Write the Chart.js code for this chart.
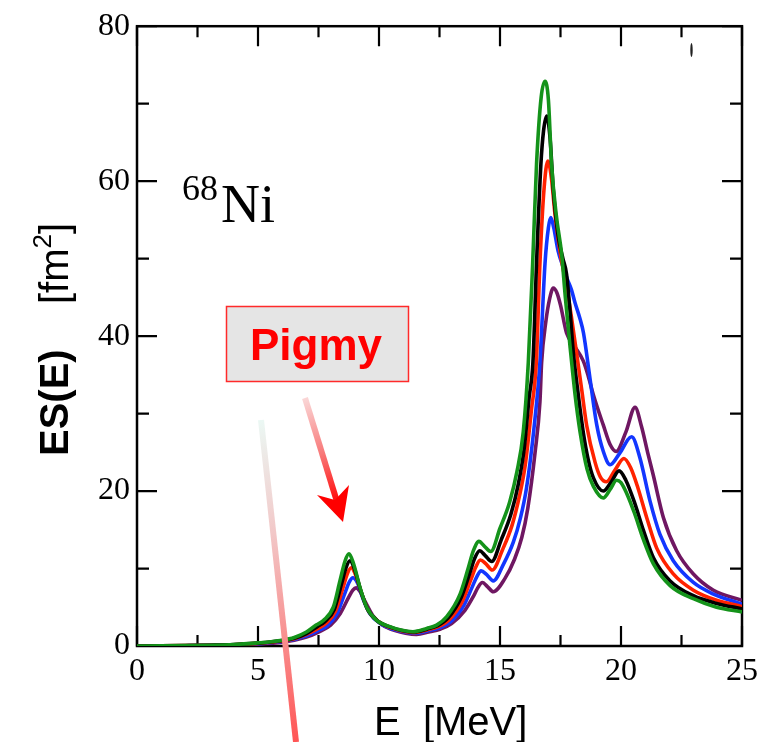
<!DOCTYPE html>
<html>
<head>
<meta charset="utf-8">
<script src="https://cdn.jsdelivr.net/npm/chart.js@4/dist/chart.umd.min.js"></script>
<style>
  html, body { margin: 0; padding: 0; background: #ffffff; }
  canvas { display: block; }
</style>
</head>
<body>
<canvas id="chart" width="776" height="742"></canvas>
<script>
// Tick labels on both axes
const energyTicks = [0, 5, 10, 15, 20, 25];
const strengthTicks = [0, 20, 40, 60, 80];

// Strength functions ES(E) [fm^2] versus E [MeV], one list of [E, ES] per curve
const curveGreen = [[0,0],[1,0.02],[2,0.05],[3,0.1],[4,0.2],[5,0.4],[6,0.75],[6.5,1.1],[7,1.8],[7.4,2.7],[7.7,3.3],[8.11,5.0],[8.39,8.45],[8.6,11.0],[8.76,11.9],[8.95,10.6],[9.21,7.6],[9.49,5.0],[9.9,3.3],[10.45,2.5],[10.9,2.05],[11.4,1.84],[11.97,2.26],[12.38,2.7],[12.8,3.8],[13.35,6.7],[13.7,10.2],[13.9,12.3],[14.13,13.5],[14.35,12.9],[14.62,12.2],[15.0,15.2],[15.4,18.6],[15.7,22.5],[15.96,27.6],[16.17,36.6],[16.35,49.4],[16.51,62.2],[16.7,70.8],[16.86,72.9],[17.0,70.5],[17.13,62.2],[17.33,55.5],[17.55,50.5],[17.7,45.0],[17.9,38.5],[18.1,32.5],[18.31,27.6],[18.6,22.8],[18.86,20.6],[19.27,19.1],[19.55,20.2],[19.82,21.4],[20.0,21.1],[20.25,19.6],[20.55,17.2],[20.92,13.8],[21.34,10.6],[22.03,7.8],[22.99,6.1],[23.95,5.0],[25,4.4]];
const curveBlack = [[0,0],[1,0.02],[2,0.05],[3,0.1],[4,0.18],[5,0.37],[6,0.7],[6.5,1.0],[7,1.6],[7.45,2.5],[7.75,3.1],[8.15,4.7],[8.45,8.0],[8.65,10.2],[8.8,11.0],[8.98,10.0],[9.25,7.1],[9.52,4.8],[9.95,3.2],[10.5,2.4],[10.95,2.0],[11.45,1.8],[12.0,2.2],[12.4,2.6],[12.85,3.6],[13.4,6.3],[13.75,9.4],[13.95,11.3],[14.16,12.3],[14.38,11.7],[14.66,10.9],[15.05,13.7],[15.45,17.0],[15.75,20.8],[16.0,25.5],[16.2,32.0],[16.36,36.6],[16.51,49.4],[16.69,62.2],[16.8,66.5],[16.93,68.4],[17.07,65.5],[17.2,59.0],[17.4,53.0],[17.6,50.0],[17.75,48.0],[17.9,43.0],[18.03,37.9],[18.2,33.3],[18.44,27.6],[18.65,24.0],[18.86,21.7],[19.27,20.0],[19.6,21.2],[19.92,22.6],[20.2,21.4],[20.55,18.6],[20.92,15.0],[21.34,11.4],[22.03,8.4],[22.99,6.5],[23.95,5.5],[25,4.8]];
const curveRed = [[0,0],[1,0.02],[2,0.05],[3,0.09],[4,0.17],[5,0.34],[6,0.65],[6.5,0.95],[7,1.5],[7.5,2.3],[7.8,2.9],[8.2,4.5],[8.5,7.4],[8.7,9.4],[8.85,10.1],[9.03,9.2],[9.3,6.6],[9.57,4.5],[10.0,3.1],[10.55,2.3],[11.0,1.9],[11.45,1.72],[12.0,2.1],[12.45,2.5],[12.9,3.4],[13.45,5.8],[13.8,8.6],[14.0,10.2],[14.19,11.1],[14.42,10.6],[14.68,9.8],[15.1,12.4],[15.5,15.6],[15.8,19.3],[16.05,23.5],[16.3,30.5],[16.5,36.6],[16.65,49.4],[16.82,59.0],[16.98,62.6],[17.12,60.5],[17.28,55.5],[17.5,50.5],[17.75,46.4],[17.95,42.5],[18.16,37.9],[18.38,33.0],[18.58,28.5],[18.93,23.7],[19.15,21.8],[19.4,21.2],[19.75,22.7],[20.12,24.2],[20.4,23.0],[20.7,20.4],[21.07,16.5],[21.48,12.6],[22.16,9.3],[22.99,7.2],[23.95,5.9],[25,5.1]];
const curveBlue = [[0,0],[1,0.02],[2,0.04],[3,0.08],[4,0.15],[5,0.3],[6,0.58],[6.5,0.85],[7,1.3],[7.5,2.0],[7.85,2.6],[8.25,4.1],[8.6,6.9],[8.78,8.3],[8.92,8.8],[9.1,8.2],[9.35,6.0],[9.62,4.2],[10.05,2.9],[10.6,2.15],[11.05,1.8],[11.5,1.65],[12.0,1.95],[12.5,2.35],[12.95,3.1],[13.5,5.2],[13.85,7.6],[14.05,9.0],[14.22,9.7],[14.45,9.2],[14.72,8.4],[15.15,10.6],[15.55,13.4],[15.85,16.6],[16.1,20.5],[16.4,28.0],[16.65,36.6],[16.86,49.4],[17.0,54.0],[17.1,55.3],[17.22,54.0],[17.4,51.0],[17.6,49.0],[17.8,47.2],[17.95,46.0],[18.1,44.3],[18.3,42.3],[18.45,40.4],[18.72,34.5],[19.0,28.5],[19.27,25.1],[19.55,23.4],[19.95,24.9],[20.44,27.0],[20.78,24.3],[21.2,18.7],[21.61,14.4],[22.16,11.0],[22.99,8.2],[23.82,6.7],[25,5.4]];
const curvePurple = [[0,0],[1,0.02],[2,0.04],[3,0.07],[4,0.13],[5,0.26],[6,0.5],[6.5,0.75],[7,1.15],[7.5,1.8],[8.0,2.7],[8.4,4.2],[8.75,6.3],[8.92,7.2],[9.05,7.5],[9.2,7.1],[9.45,5.6],[9.75,3.9],[10.15,2.7],[10.7,1.95],[11.1,1.65],[11.55,1.5],[12.05,1.8],[12.55,2.2],[13.0,2.9],[13.55,4.6],[13.9,6.4],[14.08,7.5],[14.27,8.2],[14.5,7.6],[14.72,7.0],[15.2,8.7],[15.6,11.2],[15.9,14.0],[16.15,17.8],[16.45,25.0],[16.65,31.5],[16.72,36.6],[16.9,42.0],[17.05,44.8],[17.2,46.2],[17.35,45.6],[17.5,44.0],[17.75,40.4],[18.1,38.6],[18.44,36.8],[18.65,34.8],[18.86,32.4],[19.27,28.5],[19.55,26.0],[19.8,25.1],[20.2,27.6],[20.58,30.8],[20.85,28.3],[21.1,25.0],[21.33,22.1],[21.75,16.6],[22.3,12.3],[22.99,9.3],[23.82,7.2],[25,5.9]];

const toPoints = arr => arr.map(([x, y]) => ({ x, y }));

// First dataset is painted last, so the green curve ends up on top
const curves = [
  { data: curveGreen,  color: '#14931a' },
  { data: curveBlack,  color: '#000000' },
  { data: curveRed,    color: '#ff2200' },
  { data: curveBlue,   color: '#1236ff' },
  { data: curvePurple, color: '#6f1762' }
];

const serif = '"Liberation Serif", "DejaVu Serif", serif';
const sans = '"Liberation Sans", Arial, sans-serif';

// Frame with inward tick marks on all four sides
const framePlugin = {
  id: 'frame',
  beforeDatasetsDraw(chart) {
    const { ctx, chartArea: a, scales: { x, y } } = chart;
    ctx.save();
    ctx.strokeStyle = '#000';
    ctx.lineWidth = 2.5;
    ctx.strokeRect(a.left, a.top, a.right - a.left, a.bottom - a.top);
    ctx.lineWidth = 2.2;
    ctx.beginPath();
    for (let e = 0; e <= 25; e += 2.5) {
      const px = x.getPixelForValue(e);
      const len = (e % 5 === 0) ? 20 : 11;
      ctx.moveTo(px, a.bottom); ctx.lineTo(px, a.bottom - len);
      ctx.moveTo(px, a.top); ctx.lineTo(px, a.top + len);
    }
    for (let v = 0; v <= 80; v += 10) {
      const py = y.getPixelForValue(v);
      const len = (v % 20 === 0) ? 20 : 12;
      ctx.moveTo(a.left, py); ctx.lineTo(a.left + len, py);
      ctx.moveTo(a.right, py); ctx.lineTo(a.right - len, py);
    }
    ctx.stroke();
    ctx.restore();
  }
};

// Axis titles, nucleus label and the "Pigmy" callout
const annotationPlugin = {
  id: 'annotations',
  afterDraw(chart) {
    const { ctx } = chart;
    ctx.save();
    ctx.fillStyle = '#000';

    // x-axis title
    ctx.font = '40px ' + sans;
    ctx.textAlign = 'left';
    ctx.textBaseline = 'alphabetic';
    ctx.fillText('E  [MeV]', 374, 735);

    // y-axis title, rotated
    ctx.save();
    ctx.translate(68, 456);
    ctx.rotate(-Math.PI / 2);
    ctx.font = 'bold 40px ' + sans;
    ctx.fillText('ES(E)', 0, 0);
    ctx.font = '40px ' + sans;
    let cx = 152;
    ctx.fillText('[fm', cx, 0);
    cx += ctx.measureText('[fm').width;
    ctx.font = '26px ' + sans;
    ctx.fillText('2', cx, -17);
    cx += ctx.measureText('2').width;
    ctx.font = '40px ' + sans;
    ctx.fillText(']', cx, 0);
    ctx.restore();

    // nucleus label
    ctx.font = '36px ' + serif;
    ctx.fillText('68', 182, 200);
    ctx.font = '54px ' + serif;
    ctx.fillText('Ni', 221, 222);

    // callout box
    ctx.fillStyle = '#e5e5e5';
    ctx.fillRect(226, 306, 183, 76);
    ctx.strokeStyle = '#ff2a2a';
    ctx.lineWidth = 1.5;
    ctx.strokeRect(226.5, 306.5, 182, 75);
    ctx.fillStyle = '#ff0000';
    ctx.font = 'bold 44px ' + sans;
    ctx.textAlign = 'center';
    ctx.fillText('Pigmy', 316, 360);

    // arrow pointing at the low-lying peak
    const g = ctx.createLinearGradient(305, 398, 343, 522);
    g.addColorStop(0, 'rgba(250,215,215,1)');
    g.addColorStop(0.45, 'rgba(248,120,120,1)');
    g.addColorStop(0.8, 'rgba(255,20,20,1)');
    g.addColorStop(1, 'rgba(255,0,0,1)');
    ctx.strokeStyle = g;
    ctx.lineWidth = 6;
    ctx.lineCap = 'butt';
    ctx.beginPath();
    ctx.moveTo(305, 398);
    ctx.lineTo(338, 505);
    ctx.stroke();
    ctx.fillStyle = '#ff0000';
    ctx.beginPath();
    ctx.moveTo(343, 522);
    ctx.lineTo(317, 495);
    ctx.lineTo(335, 500);
    ctx.lineTo(349, 485);
    ctx.closePath();
    ctx.fill();

    // faint pointer line running down past the axis
    const g2 = ctx.createLinearGradient(261, 420, 296, 742);
    g2.addColorStop(0, 'rgba(235,248,244,1)');
    g2.addColorStop(0.35, 'rgba(242,200,200,1)');
    g2.addColorStop(1, 'rgba(255,85,85,1)');
    ctx.strokeStyle = g2;
    ctx.lineWidth = 6;
    ctx.beginPath();
    ctx.moveTo(261, 420);
    ctx.lineTo(296, 742);
    ctx.stroke();

    // small mark near the top-right corner
    ctx.fillStyle = '#222';
    ctx.beginPath();
    ctx.ellipse(691.5, 50, 1.2, 7, 0, 0, Math.PI * 2);
    ctx.fill();

    ctx.restore();
  }
};

new Chart(document.getElementById('chart'), {
  type: 'line',
  data: {
    datasets: curves.map(c => ({
      data: toPoints(c.data),
      borderColor: c.color,
      borderWidth: 3.6,
      pointRadius: 0,
      fill: false,
      cubicInterpolationMode: 'monotone'
    }))
  },
  options: {
    responsive: false,
    animation: false,
    devicePixelRatio: 1,
    layout: { padding: { left: 0, top: 21, right: 34, bottom: 0 } },
    plugins: { legend: { display: false }, tooltip: { enabled: false } },
    scales: {
      x: {
        type: 'linear',
        min: 0, max: 25,
        afterBuildTicks(scale) { scale.ticks = energyTicks.map(v => ({ value: v })); },
        afterFit(scale) { scale.height = 96; },
        grid: { display: false, drawTicks: false },
        border: { display: false },
        ticks: { color: '#000', font: { family: serif, size: 32 }, padding: 6, maxRotation: 0, autoSkip: false }
      },
      y: {
        type: 'linear',
        min: 0, max: 80,
        afterBuildTicks(scale) { scale.ticks = strengthTicks.map(v => ({ value: v })); },
        afterFit(scale) { scale.width = 137; },
        grid: { display: false, drawTicks: false },
        border: { display: false },
        ticks: { color: '#000', font: { family: serif, size: 32 }, padding: 7, autoSkip: false }
      }
    }
  },
  plugins: [framePlugin, annotationPlugin]
});
</script>
</body>
</html>
